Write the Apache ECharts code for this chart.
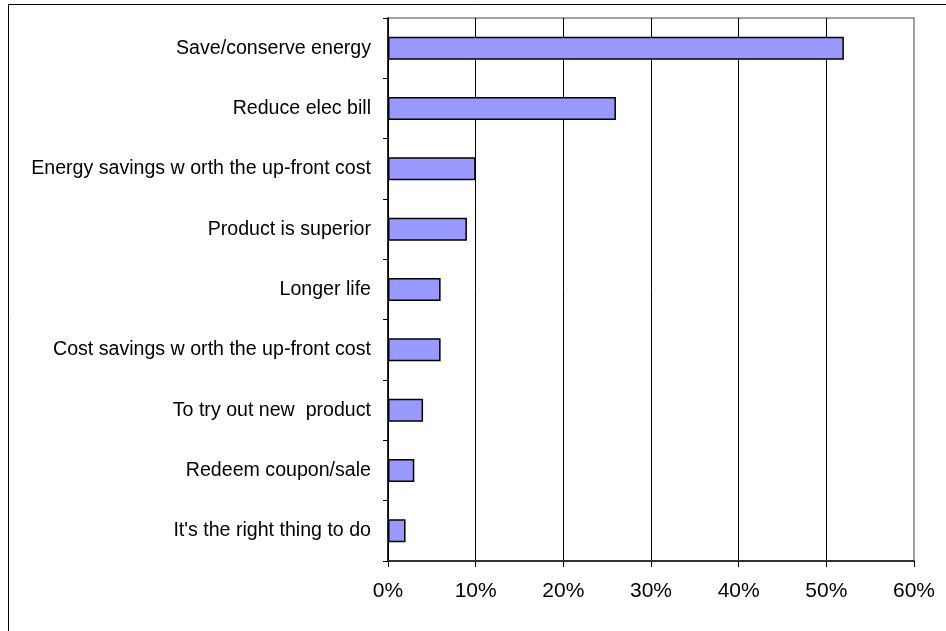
<!DOCTYPE html>
<html>
<head>
<meta charset="utf-8">
<script src="https://cdn.jsdelivr.net/npm/echarts@6/dist/echarts.min.js"></script>
<style>
html,body{margin:0;padding:0;background:#fff;}
#chart{width:946px;height:631px;}
</style>
</head>
<body>
<div id="chart"></div>
<script>
var categories = [
  "Save/conserve energy",
  "Reduce elec bill",
  "Energy savings w orth the up-front cost",
  "Product is superior",
  "Longer life",
  "Cost savings w orth the up-front cost",
  "To try out new  product",
  "Redeem coupon/sale",
  "It's the right thing to do"
];
var values = [52, 26, 10, 9, 6, 6, 4, 3, 2];
var xTicks = { min: 0, max: 60, interval: 10 };

var chart = echarts.init(document.getElementById('chart'), null, { renderer: 'canvas' });
var font = '"Liberation Sans", Arial, sans-serif';
chart.setOption({
  animation: false,
  backgroundColor: '#fff',
  graphic: [{
    type: 'rect',
    shape: { x: 8.5, y: 4.5, width: 1000, height: 1000 },
    style: { fill: 'none', stroke: '#000', lineWidth: 1 },
    silent: true, z: -1
  }],
  grid: {
    left: 388, right: 32, top: 18, bottom: 70,
    show: true, borderColor: '#808080', borderWidth: 1.5, backgroundColor: 'transparent'
  },
  xAxis: {
    type: 'value',
    min: xTicks.min, max: xTicks.max, interval: xTicks.interval,
    axisLine: { show: true, lineStyle: { color: '#333', width: 2 } },
    axisTick: { show: true, length: 6, lineStyle: { color: '#000', width: 1 } },
    axisLabel: { formatter: '{value}%', color: '#000', fontSize: 21, fontFamily: font, margin: 20 },
    splitLine: { show: true, showMaxLine: false, lineStyle: { color: '#000', width: 1 } }
  },
  yAxis: {
    type: 'category',
    data: categories,
    inverse: true,
    axisLine: { show: true, lineStyle: { color: '#000', width: 1.5 } },
    axisTick: { show: true, length: 5, lineStyle: { color: '#000', width: 1 } },
    axisLabel: { color: '#000', fontSize: 19.6, fontFamily: font, margin: 17 },
    splitLine: { show: false }
  },
  series: [{
    type: 'bar',
    data: values,
    barCategoryGap: '62%',
    itemStyle: { color: '#9999FF', borderColor: '#000', borderWidth: 1.5 }
  }]
});
</script>
</body>
</html>
